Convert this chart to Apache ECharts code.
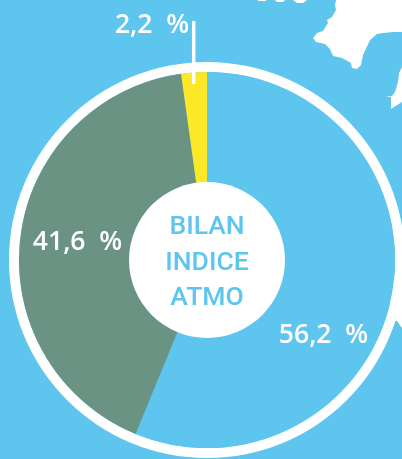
<!DOCTYPE html>
<html><head><meta charset="utf-8">
<style>html,body{margin:0;padding:0;background:#5dc5ee}#c{width:402px;height:459px}</style>
<script src="https://cdn.jsdelivr.net/npm/echarts@6/dist/echarts.min.js"></script>
</head><body><div id="c"></div>
<script>
const categories = ['Bon', 'Moyen', 'Mauvais'];
const values = [56.2, 41.6, 2.2];
const sliceColors = ['#5dc5ee', '#6a9384', '#fce826'];
const centerLines = ['BILAN', 'INDICE', 'ATMO'];
const labelSpots = [[323.5, 335], [77.5, 242], [152, 25]];
const FONT = '"Open Sans", sans-serif';
const center = [207, 260];
// White coastline shapes behind the chart (decoration, not data)
const coastShapes = [
  [[336,0],[335,5],[336,10],[332,17],[327,20],[328,23],[323,31],[317,33],[313,38],[316,42],[325,44],[330,49],[333,56],[342,58],[351,63],[352,68],[357,69],[361,65],[363,55],[370,40],[377,34],[383,33],[393,32],[402,32],[402,0]],
  [[402,67],[399,73],[398,82],[395,92],[392,96],[385,96],[391,97],[391,109],[402,102]],
  [[390,280],[402,280],[402,328],[397,321],[390,321]],
  [[257,0],[267,0],[265,1],[259,1]],
  [[275,0],[285,0],[283,2],[277,2]],
  [[293,0],[307,0],[303,3],[297,3]]
];
const chart = echarts.init(document.getElementById('c'), null, {renderer:'canvas'});
chart.setOption({
  animation:false,
  backgroundColor:'#5dc5ee',
  series:[
    {type:'pie',silent:true,center,radius:[188,198],startAngle:90,clockwise:true,
     label:{show:false},labelLine:{show:false},
     data:[{value:1,itemStyle:{color:'#ffffff'}}]},
    {type:'pie',silent:true,center,radius:[0,188],startAngle:90,clockwise:true,
     itemStyle:{borderWidth:0},
     data:categories.map((name,i)=>({name,value:values[i],itemStyle:{color:sliceColors[i]}})),
     label:{show:true,position:'inside',color:'#fff',fontFamily:FONT,fontWeight:600,fontSize:26.5,
       formatter:p=>String(p.value).replace('.',',')+'\u00a0\u00a0%'},
     labelLine:{show:false},
     labelLayout:p=>({x:labelSpots[p.dataIndex][0],y:labelSpots[p.dataIndex][1],align:'center',verticalAlign:'middle'})},
    {type:'pie',silent:true,center,radius:[0,78],z:5,
     data:[{value:1,itemStyle:{color:'#ffffff'}}],
     label:{show:true,position:'center',formatter:centerLines.join('\n'),color:'#5dc5ee',
       fontFamily:'Roboto, sans-serif',fontWeight:500,fontSize:26.5,lineHeight:35.5},
     labelLine:{show:false},
     labelLayout:{dy:3}}
  ],
  graphic:coastShapes.map(points=>({type:'polygon',z:0,silent:true,shape:{points},style:{fill:'#fff'}})).concat([
    {type:'line',z:10,shape:{x1:193.7,y1:21,x2:193.7,y2:84},style:{stroke:'#fff',lineWidth:3.5}}
  ])
});
</script></body></html>
